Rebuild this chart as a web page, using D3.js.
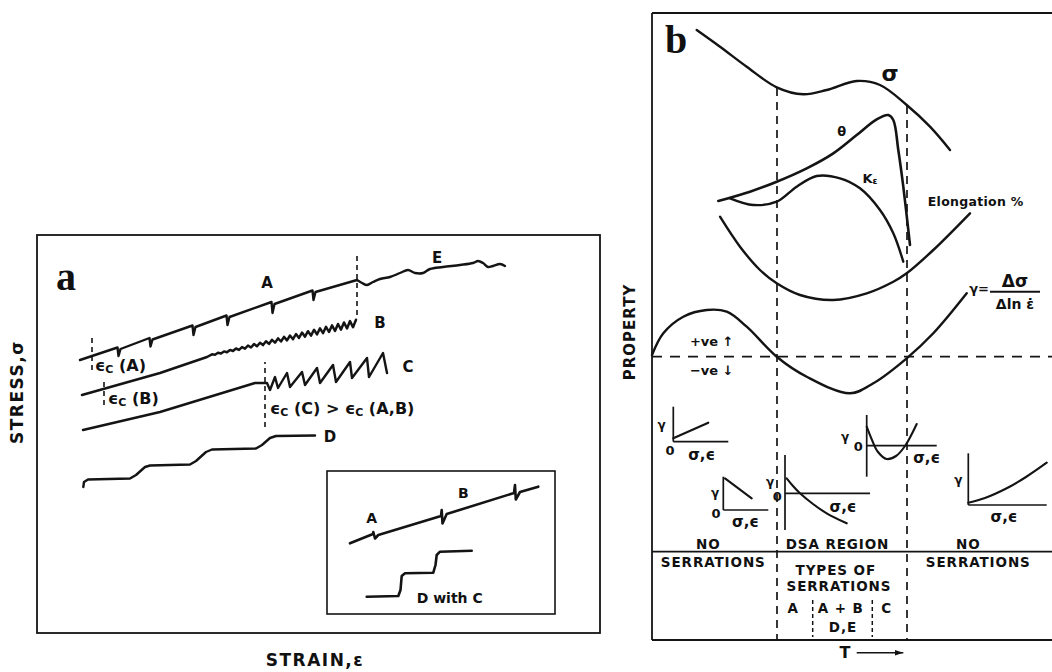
<!DOCTYPE html>
<html>
<head>
<meta charset="utf-8">
<script src="https://cdn.jsdelivr.net/npm/d3@7"></script>
<style>
  html, body { margin: 0; padding: 0; background: #fff; }
  svg text { font-family: "DejaVu Sans", "Liberation Sans", Arial, sans-serif; font-weight: bold; fill: #111; }
  .serif { font-family: "Liberation Serif", "Times New Roman", serif; }
</style>
</head>
<body>
<svg id="fig" width="1052" height="672"></svg>
<script>
// ---------- Panel a: schematic stress–strain curves (arbitrary units) ----------
const strainDomain = [0, 56.3];
const stressDomain = [0, 39.8];

// type A: occasional abrupt drops on a rising curve
const curveA = [[4.3,27.3],[8.05,28.55],[8.15,27.7],[8.35,28.4],[11.25,29.5],[11.35,28.65],[11.55,29.35],
  [15.55,30.75],[15.65,29.8],[15.85,30.6],[18.95,31.75],[19.05,30.8],[19.25,31.6],[23.45,33.1],[23.55,32.0],
  [23.75,32.9],[27.55,34.25],[27.65,33.3],[27.85,34.1],[32.0,35.3]];
// type E: wavy continuation after the A serrations
const curveE = [[32.0,35.3],[32.5,35.0],[33.0,34.8],[33.6,35.1],[34.3,35.4],[35.3,35.6],[36.3,36.0],[37.1,36.3],
  [37.8,36.0],[38.6,36.0],[39.3,36.4],[40.6,36.6],[42.3,36.8],[43.6,37.0],[44.1,37.2],[44.6,37.0],[45.1,36.6],
  [45.6,36.7],[46.3,36.9],[46.8,36.7]];
// type B: fine oscillation about the general level
const curveB = [[4.5,23.8],[12.3,26.0],[17.0,27.6],
  [17.5,27.87],[17.8,27.83],[18.1,28.02],[18.4,27.95],[18.7,28.16],[19.0,28.07],[19.3,28.31],[19.6,28.2],
  [19.9,28.45],[20.2,28.31],[20.5,28.59],[20.8,28.43],[21.1,28.75],[21.4,28.55],[21.7,28.89],[22.0,28.67],
  [22.3,29.03],[22.6,28.79],[22.9,29.17],[23.2,28.91],[23.5,29.32],[23.8,29.03],[24.1,29.46],[24.4,29.15],
  [24.7,29.61],[25.0,29.26],[25.3,29.75],[25.6,29.38],[25.9,29.9],[26.2,29.51],[26.5,30.04],[26.8,29.63],
  [27.1,30.18],[27.4,29.74],[27.7,30.32],[28.0,29.86],[28.3,30.47],[28.6,29.98],[28.9,30.62],[29.2,30.1],
  [29.5,30.76],[29.8,30.21],[30.1,30.9],[30.4,30.34],[30.7,31.05],[31.0,30.46],[31.3,31.19],[31.6,30.58],
  [31.9,31.33]];
// type C: sawtooth below the general level
const curveC = [[4.6,20.3],[12.3,22.1],[21.8,25.0],[23.0,25.0],[23.3,24.3],[23.8,25.6],[24.1,24.5],[25.0,26.0],
  [25.3,24.6],[26.5,26.1],[26.8,24.8],[28.0,26.5],[28.3,25.0],[29.6,26.8],[29.9,25.1],[31.3,27.1],[31.5,25.5],
  [33.0,27.5],[33.2,25.6],[34.6,28.0],[35.0,26.0]];
// type D: plateaus (stepwise)
const curveD = [[4.63,14.6],[4.7,15.1],[5.1,15.35],[9.3,15.45],[9.9,15.8],[10.8,16.6],[11.3,16.75],[15.3,16.85],
  [15.9,17.2],[16.9,18.1],[17.5,18.35],[21.9,18.45],[22.5,18.8],[23.3,19.5],[23.9,19.7],[27.8,19.75]];
// inset: A + B on one curve, D with C below it
const insetAB = [[31.3,8.97],[33.6,9.9],[33.63,10.1],[33.8,9.45],[34.13,9.8],[40.4,11.7],[40.47,12.3],[40.55,10.95],
  [40.97,11.9],[47.7,14.0],[47.8,14.8],[47.88,13.35],[48.3,14.1],[50.13,14.63]];
const insetDC = [[32.97,3.63],[36.13,3.7],[36.35,4.3],[36.47,5.7],[36.8,5.97],[39.63,6.03],[39.85,6.8],
  [39.97,7.8],[40.3,8.13],[43.47,8.23]];
// critical-strain markers: [strain, stress from, stress to]
const criticalStrain = [[5.5,26.3,29.5],[6.7,22.8,25.5],[22.8,20.6,27.1],[32.0,31.8,38.1]];
const insetFrame = [[29.0,1.9],[51.8,16.2]];

const curveLabelsA = [["A",23.0,35.0],["B",34.3,31.0],["C",37.1,26.6],["D",29.3,19.6],["E",40.0,37.5]];
const insetLabels = [["A",33.47,11.5],["B",42.63,14.0]];

// ---------- Panel b: property vs temperature ----------
const tempDomain = [0, 40];
const propDomain = [0, 62.7];

const sigmaT = [[4.47,61.0],[6.8,59.33],[9.47,57.33],[12.47,55.27],[15.13,54.57],[17.47,55.0],[20.47,55.9],
  [22.8,55.5],[25.47,53.5],[27.8,51.33],[29.8,49.0]];
const thetaT = [[6.63,43.9],[9.8,44.83],[12.47,45.83],[15.47,47.17],[18.13,48.67],[20.47,50.5],[22.47,52.07],
  [23.63,52.5],[24.13,52.0],[24.63,49.0],[25.13,45.33],[25.8,39.5]];
const kEpsT = [[7.8,44.17],[10.13,43.5],[12.47,43.83],[14.47,45.33],[16.47,46.4],[18.8,46.17],[20.8,45.17],
  [22.8,43.0],[24.13,40.67],[25.13,37.83]];
const elongT = [[6.8,42.33],[8.8,39.33],[10.8,37.0],[12.47,35.67],[14.8,34.5],[18.13,34.0],[21.47,34.67],
  [24.13,35.83],[25.47,36.67],[28.13,39.0],[31.8,42.67]];
const gammaT = [[0,28.5],[1.13,30.67],[3.13,32.33],[5.47,33.0],[7.47,32.83],[9.47,31.33],[12.47,28.33],
  [15.47,26.33],[19.8,24.67],[22.13,25.67],[25.47,28.17],[28.13,30.67],[31.47,34.67]];

const gammaZero = 28.33;          // γ = 0 level
const dsaBounds = [12.5, 25.5];    // onset / end of the DSA region
const subBounds = [16.07, 22.03];  // A | A+B, D,E | C
const regionLine = 8.83;

// small γ vs (σ, ε) sketches: axis corner, axis ends, curve
const miniAxes = [
  { x0: 2.13, y0: 19.83, yTop: 23.33, xEnd: 7.63 },
  { x0: 7.13, y0: 13.0, yTop: 16.33, xEnd: 11.63 },
  { x0: 13.3, y0: 14.67, yTop: 18.5, yBot: 11.0, xEnd: 21.8 },
  { x0: 21.47, y0: 19.43, yTop: 22.5, yBot: 16.33, xEnd: 28.47 },
  { x0: 31.63, y0: 13.5, yTop: 18.67, xEnd: 39.47 }
];
const miniCurves = [
  [[2.13,20.17],[5.63,21.73]],
  [[7.3,16.17],[9.97,14.17]],
  [[13.47,16.17],[14.1,15.4],[14.8,14.67],[16.1,13.6],[17.47,12.67],[19.47,11.67]],
  [[21.47,21.33],[22.0,20.0],[22.6,18.8],[23.47,18.1],[24.4,18.4],[25.3,19.4],[26.47,21.6]],
  [[31.63,13.73],[33.3,14.2],[35.47,15.17],[37.4,16.3],[39.47,17.73]]
];
const miniGammaLabels = [[0.97,21.5],[6.3,14.67],[11.8,15.83],[19.3,20.33],[30.63,16.0]];
const miniZeroLabels = [[1.8,19.0],[6.4,12.67],[12.53,14.4],[20.63,19.33]];
const miniAxisLabels = [[4.97,18.5],[9.35,11.83],[19.1,13.33],[27.47,18.17],[35.2,12.33]];

const regionTexts = [
  ["NO",5.63,9.6],["SERRATIONS",6.13,7.83],["DSA REGION",18.55,9.6],["NO",31.63,9.6],["SERRATIONS",32.63,7.83],
  ["TYPES OF",18.38,7.0],["SERRATIONS",18.7,5.4],["A",14.13,3.17],["A + B",18.88,3.17],["C",23.47,3.17],["D,E",19.1,1.33]
];

// ---------- drawing ----------
const svg = d3.select("#fig");
const ink = "#141414";

const xA = d3.scaleLinear().domain(strainDomain).range([37, 600]);
const yA = d3.scaleLinear().domain(stressDomain).range([633, 235]);
const xB = d3.scaleLinear().domain(tempDomain).range([652, 1052]);
const yB = d3.scaleLinear().domain(propDomain).range([640, 13]);

const gA = svg.append("g");
const gB = svg.append("g");

function path(g, data, sx, sy, curve, w) {
  return g.append("path")
    .attr("d", d3.line().x(d => sx(d[0])).y(d => sy(d[1])).curve(curve || d3.curveLinear)(data))
    .attr("fill", "none").attr("stroke", ink).attr("stroke-width", w || 2.4)
    .attr("stroke-linejoin", "round").attr("stroke-linecap", "round");
}
function seg(g, x1, y1, x2, y2, w, dash) {
  const l = g.append("line").attr("x1", x1).attr("y1", y1).attr("x2", x2).attr("y2", y2)
    .attr("stroke", ink).attr("stroke-width", w || 1.7);
  if (dash) l.attr("stroke-dasharray", dash);
  return l;
}
function txt(g, str, x, y, size, anchor) {
  return g.append("text").attr("x", x).attr("y", y).attr("font-size", size)
    .attr("text-anchor", anchor || "middle").attr("dominant-baseline", "central").text(str);
}

// panel a frame
gA.append("rect")
  .attr("x", xA(strainDomain[0])).attr("y", yA(stressDomain[1]))
  .attr("width", xA(strainDomain[1]) - xA(strainDomain[0]))
  .attr("height", yA(stressDomain[0]) - yA(stressDomain[1]))
  .attr("fill", "none").attr("stroke", ink).attr("stroke-width", 1.8);

gA.append("text").attr("class", "serif").attr("x", xA(1.9)).attr("y", yA(34.3))
  .attr("font-size", 40).text("a");

path(gA, curveA, xA, yA);
path(gA, curveE, xA, yA, d3.curveCatmullRom);
path(gA, curveB, xA, yA, d3.curveLinear, 2.5);
path(gA, curveC, xA, yA);
path(gA, curveD, xA, yA);

criticalStrain.forEach(([s, t0, t1]) => seg(gA, xA(s), yA(t0), xA(s), yA(t1), 1.6, "5,4"));

curveLabelsA.forEach(([l, s, t]) => txt(gA, l, xA(s), yA(t), 15));

// ϵc annotations
function epsLabel(g, x, y, parts) {
  const t = g.append("text").attr("x", x).attr("y", y).attr("font-size", 16)
    .attr("dominant-baseline", "central");
  parts.forEach(p => {
    t.append("tspan").text("ϵ");
    t.append("tspan").attr("font-size", 11).attr("dy", 4).text("C");
    t.append("tspan").attr("dy", -4).text(p);
  });
}
epsLabel(gA, xA(5.8), yA(26.8), [" (A)"]);
epsLabel(gA, xA(7.1), yA(23.5), [" (B)"]);
epsLabel(gA, xA(23.3), yA(22.5), [" (C) > ", " (A,B)"]);

// inset
gA.append("rect")
  .attr("x", xA(insetFrame[0][0])).attr("y", yA(insetFrame[1][1]))
  .attr("width", xA(insetFrame[1][0]) - xA(insetFrame[0][0]))
  .attr("height", yA(insetFrame[0][1]) - yA(insetFrame[1][1]))
  .attr("fill", "none").attr("stroke", ink).attr("stroke-width", 1.6);
path(gA, insetAB, xA, yA, d3.curveLinear, 2.6);
path(gA, insetDC, xA, yA, d3.curveLinear, 2.6);
insetLabels.forEach(([l, s, t]) => txt(gA, l, xA(s), yA(t), 14));
txt(gA, "D  with  C", xA(37.97), yA(3.5), 14, "start");

// axis titles
txt(gA, "STRAIN,ε", xA(27.8), yA(-2.7), 17).attr("letter-spacing", 1.5);
gA.append("text").attr("transform", `translate(${xA(-2.0)},${yA(24.1)}) rotate(-90)`)
  .attr("font-size", 17).attr("letter-spacing", 1.5).attr("text-anchor", "middle")
  .attr("dominant-baseline", "central").text("STRESS,σ");

// panel b frame
seg(gB, xB(0), yB(propDomain[1]), xB(tempDomain[1]), yB(propDomain[1]), 1.8);
seg(gB, xB(0), yB(propDomain[1]), xB(0), yB(0), 1.8);
seg(gB, xB(0), yB(0), xB(tempDomain[1]), yB(0), 1.8);
seg(gB, xB(0), yB(regionLine), xB(tempDomain[1]), yB(regionLine), 1.8);

gB.append("text").attr("class", "serif").attr("x", xB(1.3)).attr("y", yB(58.7))
  .attr("font-size", 40).text("b");

// region boundaries
seg(gB, xB(dsaBounds[0]), yB(55.2), xB(dsaBounds[0]), yB(0), 1.7, "8,6");
seg(gB, xB(dsaBounds[1]), yB(53.4), xB(dsaBounds[1]), yB(0), 1.7, "8,6");
subBounds.forEach(u => seg(gB, xB(u), yB(4.0), xB(u), yB(0.3), 1.5, "4,3"));
seg(gB, xB(0), yB(gammaZero), xB(tempDomain[1]), yB(gammaZero), 1.7, "10,8");

path(gB, sigmaT, xB, yB, d3.curveCatmullRom);
path(gB, thetaT, xB, yB, d3.curveCatmullRom, 2.6);
path(gB, kEpsT, xB, yB, d3.curveCatmullRom);
path(gB, elongT, xB, yB, d3.curveCatmullRom);
path(gB, gammaT, xB, yB, d3.curveCatmullRom);

// curve labels
txt(gB, "σ", xB(23.8), yB(56.67), 22);
txt(gB, "θ", xB(18.97), yB(50.83), 13);
const ke = gB.append("text").attr("x", xB(21.8)).attr("y", yB(46.17)).attr("font-size", 13)
  .attr("text-anchor", "middle").attr("dominant-baseline", "central");
ke.append("tspan").text("K");
ke.append("tspan").attr("font-size", 9).attr("dy", 3).text("ε");
txt(gB, "Elongation %", xB(32.37), yB(43.83), 12.5).attr("letter-spacing", 0.3);
txt(gB, "γ=", xB(32.7), yB(35.2), 13);
txt(gB, "Δσ", xB(36.3), yB(35.9), 17);
seg(gB, xB(33.8), yB(34.83), xB(38.8), yB(34.83), 1.9);
txt(gB, "Δln ε̇", xB(36.3), yB(33.6), 14);
txt(gB, "+ve ↑", xB(5.97), yB(29.83), 13);
txt(gB, "−ve ↓", xB(5.97), yB(27.0), 13);

// γ vs (σ, ε) sketches
miniAxes.forEach(a => {
  seg(gB, xB(a.x0), yB(a.yTop), xB(a.x0), yB(a.yBot !== undefined ? a.yBot : a.y0), 1.7);
  seg(gB, xB(a.x0), yB(a.y0), xB(a.xEnd), yB(a.y0), 1.7);
});
miniCurves.forEach(c => path(gB, c, xB, yB, d3.curveCatmullRom, 2.1));
miniGammaLabels.forEach(([u, v]) => txt(gB, "γ", xB(u), yB(v), 12));
miniZeroLabels.forEach(([u, v]) => txt(gB, "0", xB(u), yB(v), 13));
miniAxisLabels.forEach(([u, v]) => txt(gB, "σ,ϵ", xB(u), yB(v), 15));

// region names
regionTexts.forEach(([l, u, v]) => txt(gB, l, xB(u), yB(v), 13.5).attr("letter-spacing", 0.9));

// temperature axis
txt(gB, "T", xB(19.3), yB(-1.27), 16);
seg(gB, xB(20.47), yB(-1.27), xB(25.13), yB(-1.27), 1.5);
gB.append("path")
  .attr("d", d3.line()([[xB(25.13), yB(-1.27)], [xB(24.3), yB(-1.0)], [xB(24.3), yB(-1.54)]]) + "Z")
  .attr("fill", ink);
gB.append("text").attr("transform", `translate(${xB(-2.2)},${yB(30.8)}) rotate(-90)`)
  .attr("font-size", 15).attr("letter-spacing", 1).attr("text-anchor", "middle")
  .attr("dominant-baseline", "central").text("PROPERTY");
</script>
</body>
</html>
